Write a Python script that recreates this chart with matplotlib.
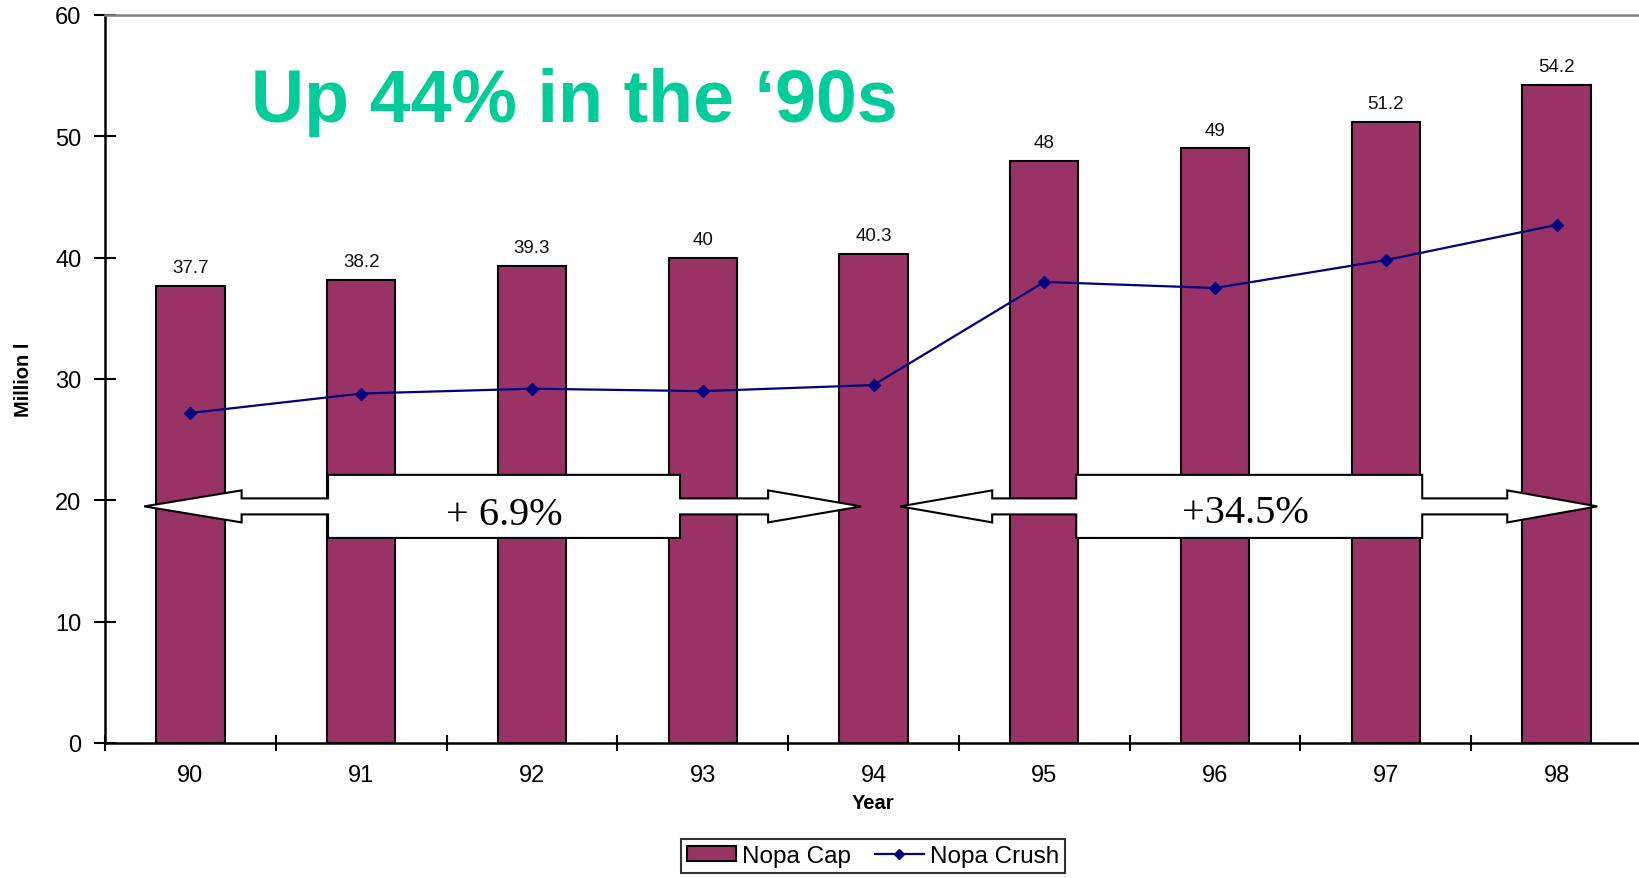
import numpy as np
import matplotlib
matplotlib.use('Agg')
import matplotlib.pyplot as plt
from matplotlib.patches import Polygon
from matplotlib.lines import Line2D

plt.rcParams['font.family'] = ['Liberation Sans', 'DejaVu Sans']

years = ['90', '91', '92', '93', '94', '95', '96', '97', '98']
nopa_cap = [37.7, 38.2, 39.3, 40, 40.3, 48, 49, 51.2, 54.2]
nopa_crush = [27.2, 28.8, 29.2, 29.0, 29.5, 38.0, 37.5, 39.8, 42.7]
cap_labels = ['37.7', '38.2', '39.3', '40', '40.3', '48', '49', '51.2', '54.2']

bar_col = '#993366'
line_col = '#000080'

fig = plt.figure(figsize=(16.39, 8.79), dpi=100)
ax = fig.add_axes([105/1639, 135/879, 1537/1639, 728/879])

x = np.arange(len(years))
ax.bar(x, nopa_cap, width=0.4, color=bar_col, edgecolor='black', linewidth=1.5, zorder=2)
ax.plot(x, nopa_crush, color=line_col, lw=1.6, marker='D', ms=6.5, zorder=3)

for xi, v, s in zip(x, nopa_cap, cap_labels):
    ax.annotate(s, (xi, v), xytext=(0, 10), textcoords='offset points',
                ha='center', va='baseline', fontsize=13.5, color='#111111')

ax.set_xlim(-0.5, 8.5)
ax.set_ylim(0, 60)
ax.set_yticks(range(0, 61, 10))
ax.set_xticks(x)
ax.set_xticklabels(years)
ax.set_xticks(np.arange(-0.5, 9, 1), minor=True)
ax.tick_params(axis='x', which='major', length=0, pad=15, labelsize=17)
ax.tick_params(axis='x', which='minor', length=12, direction='inout', width=1.5)
ax.tick_params(axis='y', length=16, direction='inout', width=1.5, pad=9, labelsize=17)

for side in ['left', 'bottom']:
    ax.spines[side].set_linewidth(1.8)
ax.spines['top'].set_color('#808080')
ax.spines['top'].set_linewidth(1.8)
ax.spines['right'].set_visible(False)

ax.set_ylabel('Million l', fontsize=14.5, fontweight='bold')
ax.yaxis.set_label_coords(-0.047, 0.5)
ax.set_xlabel('Year', fontsize=14.5, fontweight='bold')
ax.xaxis.set_label_coords(0.5, -0.068)

# title text inside the plot area
fig.text(251/1639, 1 - 122/879, 'Up 44% in the \u201890s', fontsize=53, fontweight='bold',
         color='#00CC99', ha='left', va='baseline')


def callout_arrow(tip_l, back_l, box_l, box_r, back_r, tip_r, c, box_lo, box_hi, hh, sh):
    pts = [(tip_l, c), (back_l, c + hh), (back_l, c + sh), (box_l, c + sh), (box_l, box_hi),
           (box_r, box_hi), (box_r, c + sh), (back_r, c + sh), (back_r, c + hh), (tip_r, c),
           (back_r, c - hh), (back_r, c - sh), (box_r, c - sh), (box_r, box_lo),
           (box_l, box_lo), (box_l, c - sh), (back_l, c - sh), (back_l, c - hh)]
    ax.add_patch(Polygon(pts, closed=True, facecolor='white', edgecolor='black',
                         linewidth=1.5, zorder=4))


callout_arrow(-0.27, 0.30, 0.806, 2.867, 3.383, 3.927, 19.5, 16.9, 22.1, 1.32, 0.66)
callout_arrow(4.156, 4.695, 5.187, 7.213, 7.711, 8.238, 19.5, 16.9, 22.1, 1.32, 0.66)
ax.text(1.836, 18.8, '+ 6.9%', fontsize=29, family=['Liberation Serif'], ha='center',
        va='center', zorder=5)
ax.text(6.18, 19.0, '+34.5%', fontsize=29, family=['Liberation Serif'], ha='center',
        va='center', zorder=5)

handles = [plt.Rectangle((0, 0), 1, 1, facecolor=bar_col, edgecolor='black', linewidth=1.5),
           Line2D([], [], color=line_col, lw=1.6, marker='D', ms=5)]
leg = fig.legend(handles, ['Nopa Cap', 'Nopa Crush'], loc='center', bbox_to_anchor=(873/1639, 1 - 857/879),
                 ncol=2, fontsize=17.5, frameon=True, fancybox=False, edgecolor='black',
                 handlelength=2.0, handleheight=0.6, handletextpad=0.25, columnspacing=1.0,
                 borderpad=0.25, borderaxespad=0)
leg.get_frame().set_linewidth(1.5)

fig.savefig('out.png', dpi=100)
